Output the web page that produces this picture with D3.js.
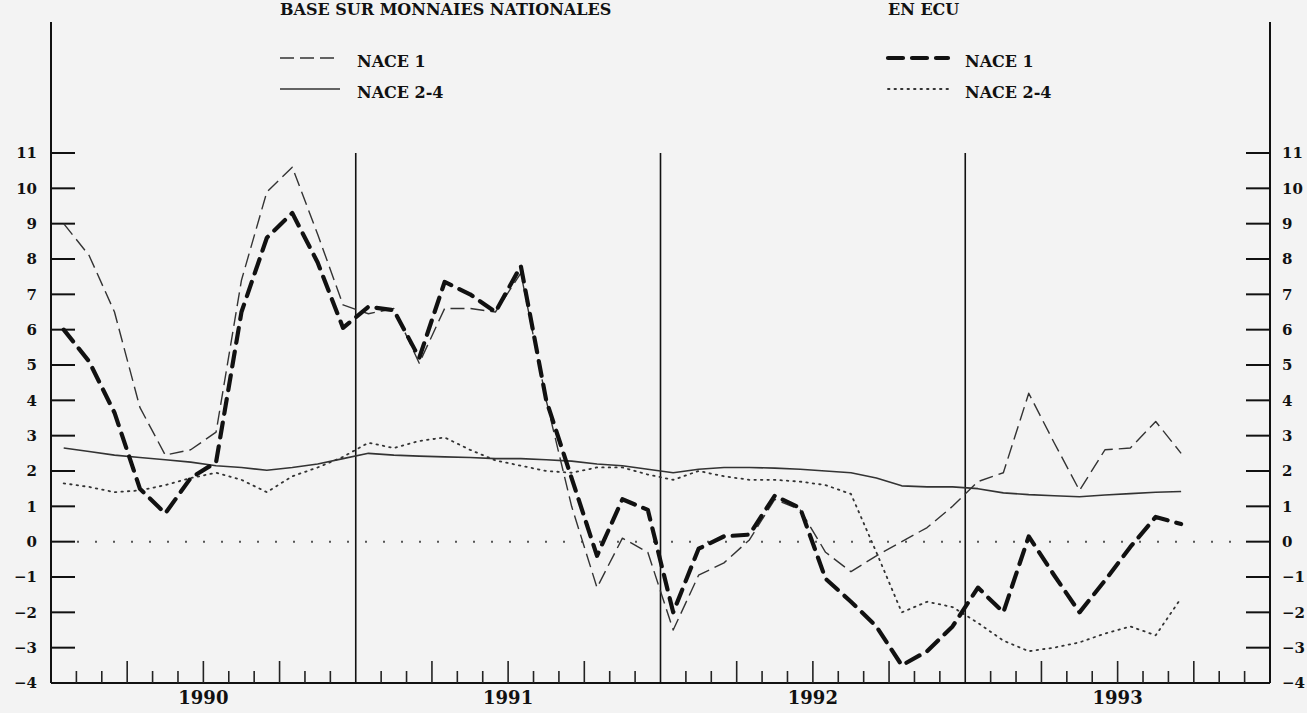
<!DOCTYPE html>
<html>
<head>
<meta charset="utf-8">
<script src="https://cdn.jsdelivr.net/npm/d3@7"></script>
<style>
  body { margin: 0; background: #f3f3f3; }
  svg text { font-family: "DejaVu Serif", serif; font-weight: bold; fill: #111; }
</style>
</head>
<body>
<div id="chart"></div>
<script>
// monthly values, Jan 1990 .. Sep 1993
var startYear = 1990;
var years = [1990, 1991, 1992, 1993];

// base sur monnaies nationales
var nace1Nat = [9.0, 8.1, 6.5, 3.8, 2.45, 2.6, 3.1, 7.4, 9.9, 10.6, 8.7, 6.7,
                6.45, 6.6, 5.05, 6.6, 6.6, 6.5, 7.6, 4.0, 1.0, -1.3, 0.1, -0.3,
                -2.5, -0.95, -0.6, 0.05, 1.2, 0.9, -0.3, -0.85, -0.4, 0.0, 0.4, 1.0,
                1.7, 1.95, 4.2, 2.8, 1.45, 2.6, 2.65, 3.4, 2.5];
var nace24Nat = [2.65, 2.55, 2.45, 2.38, 2.32, 2.25, 2.15, 2.1, 2.02, 2.1, 2.2, 2.35,
                 2.5, 2.45, 2.42, 2.4, 2.38, 2.35, 2.35, 2.32, 2.28, 2.2, 2.15, 2.05,
                 1.95, 2.05, 2.1, 2.1, 2.08, 2.05, 2.0, 1.95, 1.8, 1.58, 1.55, 1.55,
                 1.5, 1.38, 1.33, 1.3, 1.27, 1.32, 1.36, 1.4, 1.42];

// en ECU
var nace1Ecu = [6.0, 5.1, 3.65, 1.5, 0.8, 1.8, 2.25, 6.5, 8.6, 9.3, 7.9, 6.05,
                6.65, 6.55, 5.2, 7.35, 7.0, 6.5, 7.8, 4.0, 1.8, -0.4, 1.2, 0.9,
                -2.0, -0.2, 0.15, 0.2, 1.3, 0.95, -1.05, -1.7, -2.4, -3.5, -3.1, -2.4,
                -1.3, -2.0, 0.15, -0.95, -2.0, -1.1, -0.15, 0.7, 0.5];
var nace24Ecu = [1.65, 1.55, 1.4, 1.45, 1.6, 1.8, 1.95, 1.75, 1.4, 1.85, 2.1, 2.4,
                 2.8, 2.65, 2.85, 2.95, 2.6, 2.3, 2.15, 2.0, 1.95, 2.1, 2.1, 1.9,
                 1.75, 2.0, 1.85, 1.75, 1.75, 1.7, 1.6, 1.35, -0.3, -2.0, -1.7, -1.85,
                 -2.3, -2.8, -3.1, -3.0, -2.85, -2.6, -2.4, -2.65, -1.6];

var yTicks = d3.range(-4, 12);

var width = 1307, height = 713;
var svg = d3.select("#chart").append("svg")
    .attr("width", width)
    .attr("height", height);

// month index scale, 48 months
var x = d3.scaleLinear().domain([0, 48]).range([51, 1270]);
var y = d3.scaleLinear().domain([-4, 11]).range([683, 153]);

var axisTop = 22;

// left and right axis lines
svg.append("line")
    .attr("x1", x(0)).attr("x2", x(0))
    .attr("y1", axisTop).attr("y2", y(-4))
    .attr("stroke", "#111").attr("stroke-width", 2);
svg.append("line")
    .attr("x1", x(48)).attr("x2", x(48))
    .attr("y1", axisTop).attr("y2", y(-4))
    .attr("stroke", "#111").attr("stroke-width", 2);
// bottom axis
svg.append("line")
    .attr("x1", x(0)).attr("x2", x(48))
    .attr("y1", y(-4)).attr("y2", y(-4))
    .attr("stroke", "#111").attr("stroke-width", 2);

// y ticks both sides
var yt = yTicks.filter(function(d) { return d > -4; });
svg.append("g").selectAll("line")
    .data(yt).enter().append("line")
    .attr("x1", x(0)).attr("x2", x(0) + 24)
    .attr("y1", function(d) { return y(d); }).attr("y2", function(d) { return y(d); })
    .attr("stroke", "#111").attr("stroke-width", 2);
svg.append("g").selectAll("line")
    .data(yt).enter().append("line")
    .attr("x1", x(48) - 24).attr("x2", x(48))
    .attr("y1", function(d) { return y(d); }).attr("y2", function(d) { return y(d); })
    .attr("stroke", "#111").attr("stroke-width", 2);

var fmt = function(d) { return d < 0 ? "\u2212" + Math.abs(d) : d; };
svg.append("g").selectAll("text")
    .data(yTicks).enter().append("text")
    .attr("x", 37)
    .attr("y", function(d) { return y(d); })
    .attr("dy", "0.36em")
    .attr("text-anchor", "end")
    .style("font-size", "15px")
    .text(fmt);
svg.append("g").selectAll("text")
    .data(yTicks).enter().append("text")
    .attr("x", 1282)
    .attr("y", function(d) { return y(d); })
    .attr("dy", "0.36em")
    .style("font-size", "15px")
    .text(fmt);

// month ticks on bottom axis
var months = d3.range(1, 48).filter(function(m) { return m % 12 != 0; });
svg.append("g").selectAll("line")
    .data(months).enter().append("line")
    .attr("x1", function(d) { return x(d); }).attr("x2", function(d) { return x(d); })
    .attr("y1", y(-4))
    .attr("y2", function(d) { return y(-4) - (d % 3 == 0 ? 22 : 12); })
    .attr("stroke", "#222").attr("stroke-width", 1.6);

// year separators
svg.append("g").selectAll("line")
    .data([12, 24, 36]).enter().append("line")
    .attr("x1", function(d) { return x(d); }).attr("x2", function(d) { return x(d); })
    .attr("y1", y(11)).attr("y2", y(-4))
    .attr("stroke", "#111").attr("stroke-width", 1.6);

// year labels
svg.append("g").selectAll("text")
    .data(years).enter().append("text")
    .attr("x", function(d) { return x((d - startYear) * 12 + 6); })
    .attr("y", 704)
    .attr("text-anchor", "middle")
    .style("font-size", "18px")
    .text(function(d) { return d; });

// zero line
svg.append("line")
    .attr("x1", x(0) + 26).attr("x2", x(48) - 26)
    .attr("y1", y(0)).attr("y2", y(0))
    .attr("stroke", "#555").attr("stroke-width", 2)
    .attr("stroke-dasharray", "2,16");

// series
var line = d3.line()
    .x(function(d, i) { return x(i + 0.5); })
    .y(function(d) { return y(d); });

var series = [
  {values: nace24Ecu, width: 1.8, dash: "1.5,5", color: "#333", cap: "round"},
  {values: nace24Nat, width: 1.6, dash: null, color: "#333", cap: "butt"},
  {values: nace1Nat, width: 1.4, dash: "14,6", color: "#333", cap: "butt"},
  {values: nace1Ecu, width: 4.2, dash: "15,9", color: "#111", cap: "round"}
];

svg.append("g").selectAll("path")
    .data(series).enter().append("path")
    .attr("d", function(d) { return line(d.values); })
    .attr("fill", "none")
    .attr("stroke", function(d) { return d.color; })
    .attr("stroke-width", function(d) { return d.width; })
    .attr("stroke-dasharray", function(d) { return d.dash; })
    .attr("stroke-linecap", function(d) { return d.cap; })
    .attr("stroke-linejoin", "round");

// legends
var legends = [
  {title: "BASE SUR MONNAIES NATIONALES", x: 280, items: [series[2], series[1]]},
  {title: "EN ECU", x: 888, items: [series[3], series[0]]}
];
var labels = ["NACE 1", "NACE 2-4"];

legends.forEach(function(lg) {
  var g = svg.append("g");
  g.append("text")
    .attr("x", lg.x).attr("y", 15)
    .style("font-size", "16px")
    .text(lg.title);
  lg.items.forEach(function(s, k) {
    var ly = 58 + k * 31;
    g.append("line")
      .attr("x1", lg.x).attr("x2", lg.x + 60)
      .attr("y1", ly).attr("y2", ly)
      .attr("stroke", s.color)
      .attr("stroke-width", s.width)
      .attr("stroke-dasharray", s.dash)
      .attr("stroke-linecap", s.cap);
    g.append("text")
      .attr("x", lg.x + 77).attr("y", ly + 9)
      .style("font-size", "16px")
      .text(labels[k]);
  });
});
</script>
</body>
</html>
